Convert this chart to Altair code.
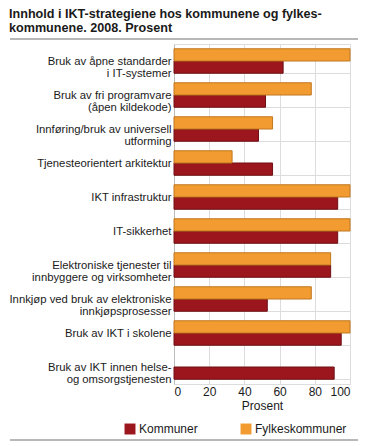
import altair as alt
import pandas as pd

categories = [
    "Bruk av åpne standarder|i IT-systemer",
    "Bruk av fri programvare|(åpen kildekode)",
    "Innføring/bruk av universell|utforming",
    "Tjenesteorientert arkitektur",
    "IKT infrastruktur",
    "IT-sikkerhet",
    "Elektroniske tjenester til|innbyggere og virksomheter",
    "Innkjøp ved bruk av elektroniske|innkjøpsprosesser",
    "Bruk av IKT i skolene",
    "Bruk av IKT innen helse-|og omsorgstjenesten",
]
kommuner = [62, 52, 48, 56, 93, 93, 89, 53, 95, 91]
fylkeskommuner = [100, 78, 56, 33, 100, 100, 89, 78, 100, None]
series = ["Kommuner", "Fylkeskommuner"]
colors = ["#9c161d", "#f29b30"]
strokes = ["#6e0f14", "#c0771f"]

rows = []
for c, k, f in zip(categories, kommuner, fylkeskommuner):
    rows.append({"cat": c, "serie": "Kommuner", "value": k})
    if f is not None:
        rows.append({"cat": c, "serie": "Fylkeskommuner", "value": f})
df = pd.DataFrame(rows)

FONT = "Liberation Sans"

bars = alt.Chart(df).mark_bar(strokeWidth=1).encode(
    y=alt.Y("cat:N", sort=categories, title=None,
            scale=alt.Scale(paddingInner=0.28, paddingOuter=0.14),
            axis=alt.Axis(labelExpr="split(datum.label, '|')", labelFontSize=11.3,
                          labelLineHeight=12, labelColor="#1a1a1a", ticks=False,
                          labelPadding=3, labelLimit=250, tickBand="extent",
                          grid=True, gridColor="#dcdcdc", domainColor="#bdbdbd",
                          labelFont=FONT)),
    yOffset=alt.YOffset("serie:N", scale=alt.Scale(domain=["Fylkeskommuner", "Kommuner"])),
    x=alt.X("value:Q", title="Prosent",
            scale=alt.Scale(domain=[0, 100], nice=False),
            axis=alt.Axis(values=[0, 20, 40, 60, 80, 100], labelFontSize=12, ticks=False,
                          titleFontSize=12, titleFontWeight="normal", titlePadding=3,
                          labelPadding=2, gridColor="#dcdcdc", domain=False,
                          labelColor="#1a1a1a", titleColor="#1a1a1a",
                          labelFont=FONT, titleFont=FONT)),
    color=alt.Color("serie:N", scale=alt.Scale(domain=series, range=colors),
                    legend=alt.Legend(title=None, orient="none", direction="horizontal",
                                      legendX=-50, legendY=379, symbolType="square",
                                      symbolSize=120, symbolStrokeWidth=0, labelOffset=3,
                                      labelFontSize=12, labelFont=FONT, columnPadding=42,
                                      labelColor="#1a1a1a")),
    stroke=alt.Stroke("serie:N", scale=alt.Scale(domain=series, range=strokes), legend=None),
)

rule_pos = pd.DataFrame({"k": ["top", "bottom"], "py": [-5, 396]})
rules = alt.Chart(rule_pos).mark_rule(color="#b8b8b8", strokeWidth=2, clip=False).encode(
    x=alt.value(-164), x2=alt.value(184), y=alt.Y("py:Q", scale=None, axis=None)
)

chart = alt.layer(bars, rules).resolve_scale(y="independent").properties(
    width=176,
    height=340,
    title=alt.Title(
        ["Innhold i IKT-strategiene hos kommunene og fylkes-", "kommunene. 2008. Prosent"],
        anchor="start", frame="bounds", fontSize=12.6, font=FONT, fontWeight="bold",
        lineHeight=14, offset=3, color="#1a1a1a",
    ),
).configure_view(stroke="#dcdcdc").configure(padding={"left": 0, "top": 0, "right": 0, "bottom": 0})

chart.save("out.html", embed_options={"renderer": "svg", "actions": False})
